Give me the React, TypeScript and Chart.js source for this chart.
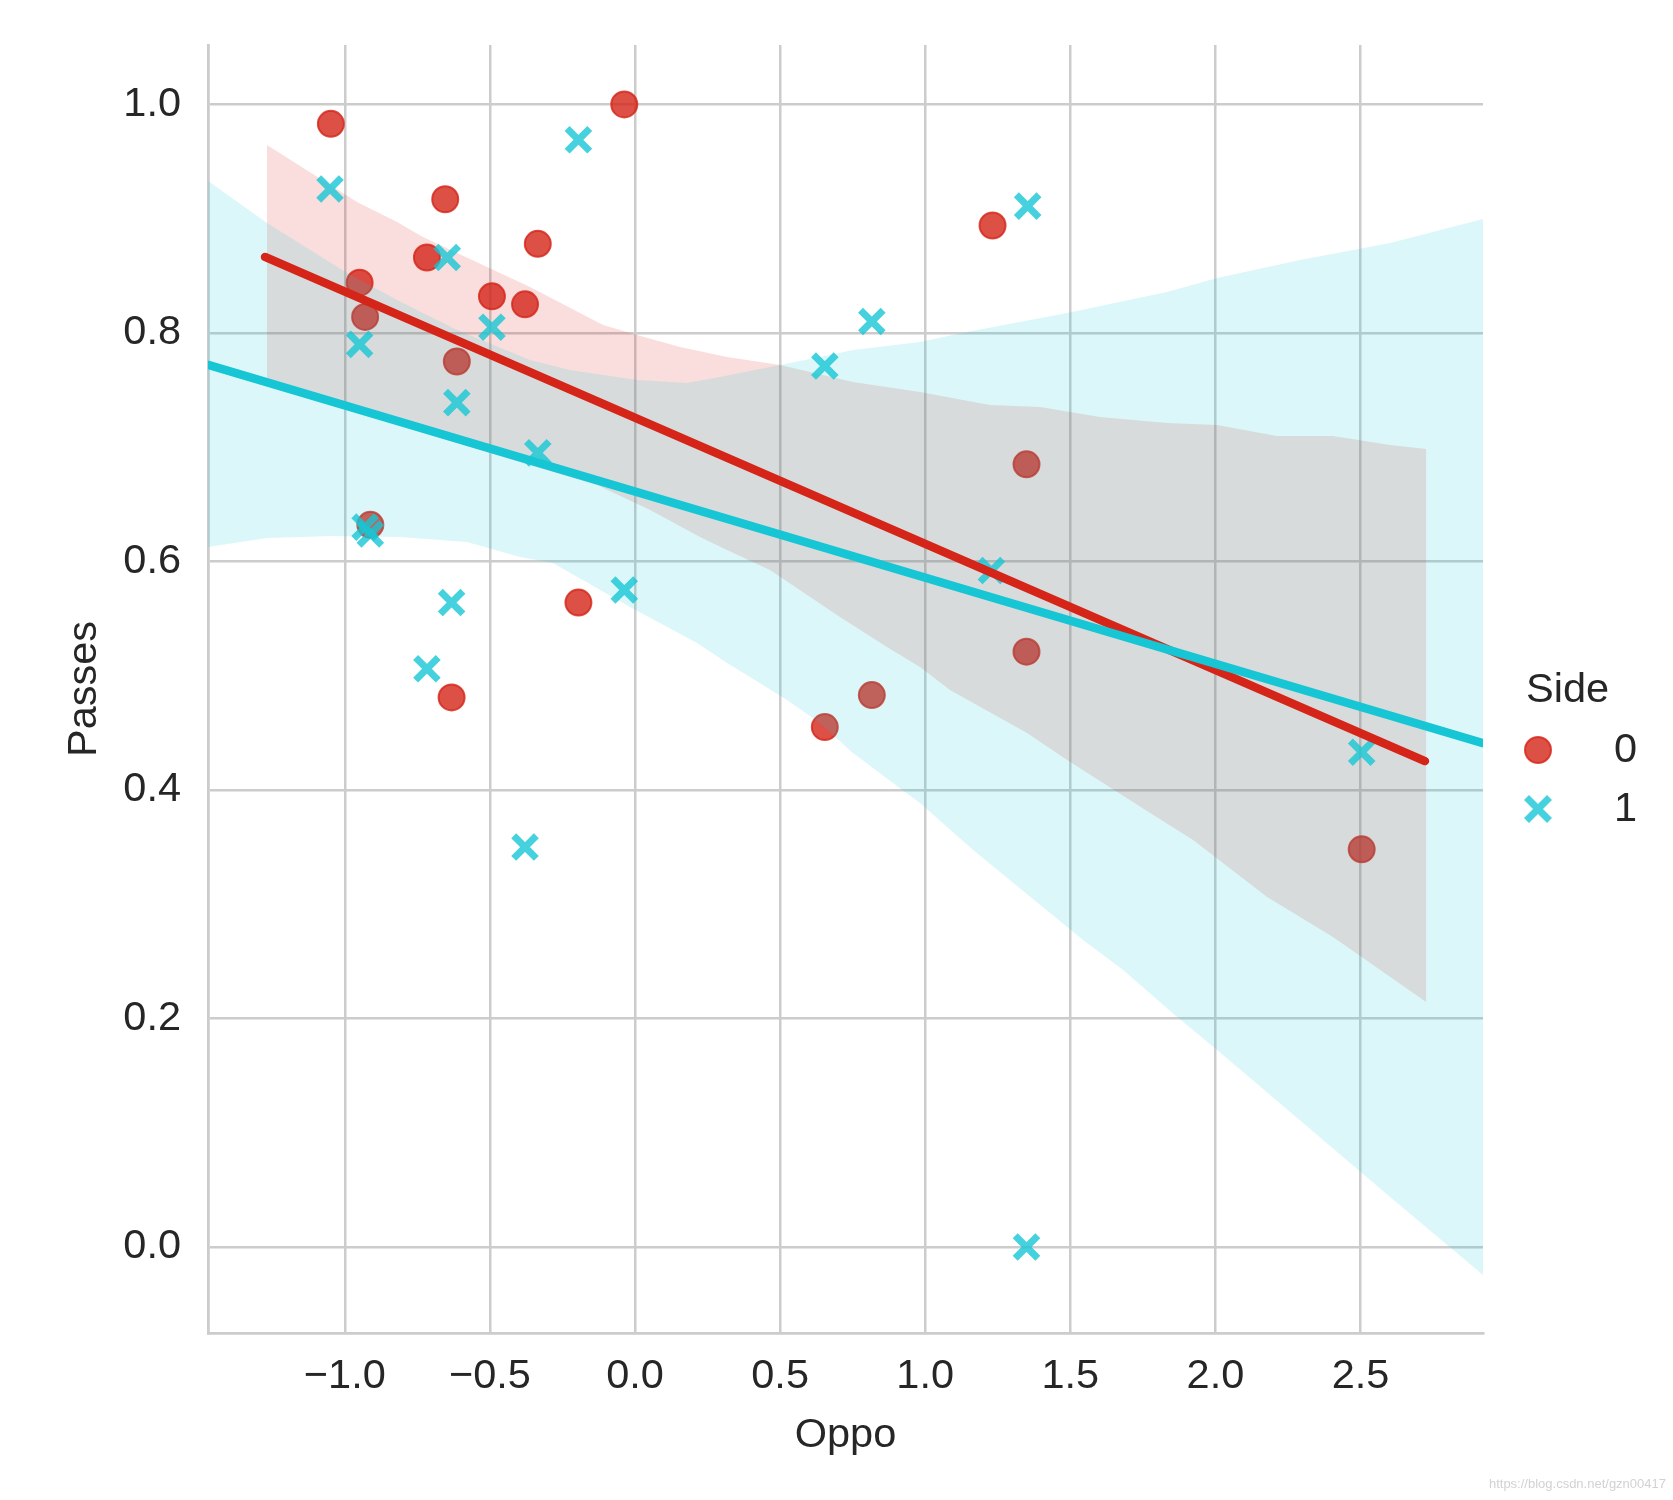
import React, { useEffect, useRef } from 'react';
import { Chart, registerables } from 'chart.js';

Chart.register(...registerables);

// ---- data ----
const side0X = [-1.048, -0.037, -0.654, -0.717, -0.949, -0.930, -0.493, -0.379, -0.335, -0.614, 1.232, 1.349, -0.912, -0.195, -0.632, 0.654, 0.816, 1.349, 2.504];
const side0Y = [0.983, 1.000, 0.917, 0.866, 0.844, 0.814, 0.832, 0.825, 0.878, 0.775, 0.894, 0.685, 0.632, 0.564, 0.481, 0.455, 0.483, 0.521, 0.348];

const side1X = [-1.051, -0.195, 1.353, -0.647, -0.949, -0.493, 0.816, 0.654, -0.614, -0.335, -0.930, -0.912, 1.228, -0.037, -0.632, -0.717, -0.379, 2.504, 1.349];
const side1Y = [0.926, 0.969, 0.911, 0.866, 0.790, 0.805, 0.810, 0.771, 0.739, 0.695, 0.630, 0.624, 0.592, 0.575, 0.564, 0.506, 0.350, 0.433, 0.000];

const fit0X = [-1.275, 2.722];
const fit0Y = [0.8665, 0.4253];
const fit1X = [-1.471, 2.922];
const fit1Y = [0.772, 0.441];

const band0UpperX = [-1.268, -0.958, -0.820, -0.731, -0.613, -0.362, -0.110, 0.007, 0.155, 0.317, 0.500, 0.751, 0.982, 1.223, 1.396, 1.602, 1.833, 2.006, 2.212, 2.405, 2.602, 2.726];
const band0UpperY = [0.9645, 0.9146, 0.8971, 0.8840, 0.8699, 0.8402, 0.8069, 0.7982, 0.7877, 0.7789, 0.7719, 0.7571, 0.7483, 0.7369, 0.7352, 0.7264, 0.7212, 0.7194, 0.7098, 0.7098, 0.7019, 0.6984];
const band0LowerX = [-1.268, -1.041, -0.810, -0.579, -0.351, -0.131, 0.052, 0.224, 0.317, 0.465, 0.706, 0.868, 0.982, 1.085, 1.351, 1.489, 1.775, 1.923, 2.178, 2.405, 2.726];
const band0LowerY = [0.7606, 0.7378, 0.7194, 0.7010, 0.6835, 0.6669, 0.6450, 0.6214, 0.6100, 0.5925, 0.5514, 0.5251, 0.5076, 0.4875, 0.4499, 0.4262, 0.3798, 0.3562, 0.3063, 0.2713, 0.2144];

const band1UpperX = [-1.471, -1.268, -0.992, -0.820, -0.613, -0.362, -0.224, 0.007, 0.179, 0.293, 0.500, 0.637, 0.751, 0.982, 1.144, 1.489, 1.833, 2.006, 2.292, 2.602, 2.922];
const band1UpperY = [0.9330, 0.8962, 0.8524, 0.8288, 0.8026, 0.7763, 0.7675, 0.7588, 0.7562, 0.7614, 0.7719, 0.7789, 0.7851, 0.7921, 0.8008, 0.8174, 0.8358, 0.8481, 0.8638, 0.8787, 0.8997];
const band1LowerX = [-1.471, -1.268, -1.041, -0.810, -0.579, -0.396, -0.283, -0.017, 0.214, 0.317, 0.396, 0.524, 0.637, 0.751, 0.889, 0.982, 1.165, 1.544, 1.682, 1.868, 2.006, 2.602, 2.922];
const band1LowerY = [0.6126, 0.6205, 0.6223, 0.6214, 0.6170, 0.6039, 0.5986, 0.5601, 0.5286, 0.5111, 0.4989, 0.4787, 0.4586, 0.4324, 0.4061, 0.3886, 0.3475, 0.2687, 0.2424, 0.2013, 0.1724, 0.0438, -0.0245];

const xTicks = [-1.0, -0.5, 0.0, 0.5, 1.0, 1.5, 2.0, 2.5];
const yTicks = [0.0, 0.2, 0.4, 0.6, 0.8, 1.0];
const xRange = [-1.4714, 2.922];
const yRange = [-0.0753, 1.052];

const xLabel = 'Oppo';
const yLabel = 'Passes';
const legendTitle = 'Side';
const legendLabels = ['0', '1'];
const watermark = 'https://blog.csdn.net/gzn00417';

// ---- styles ----
const RED = 'rgb(213,36,24)';
const RED_PT = 'rgba(213,36,24,0.8)';
const RED_BAND = 'rgba(213,36,24,0.15)';
const CYAN = 'rgb(23,198,212)';
const CYAN_PT = 'rgba(23,198,212,0.8)';
const CYAN_BAND = 'rgba(23,198,212,0.15)';
const TEXT = '#262626';
const GRID = '#cccccc';
const FONT = "'Liberation Sans', Arial, sans-serif";
const FS = 41.5;

const pts = (xs: number[], ys: number[]) => xs.map((x, i) => ({ x, y: ys[i] }));
const polygon = (ux: number[], uy: number[], lx: number[], ly: number[]) => [
  ...pts(ux, uy),
  ...pts(lx, ly).reverse(),
];

const fmt = (v: number) => (v < 0 ? '\u2212' : '') + Math.abs(v).toFixed(1);

const extrasPlugin = {
  id: 'extras',
  afterDraw(chart: any) {
    const ctx = chart.ctx as CanvasRenderingContext2D;
    ctx.save();
    // legend
    ctx.fillStyle = TEXT;
    ctx.font = `${FS}px ${FONT}`;
    ctx.textAlign = 'left';
    ctx.textBaseline = 'alphabetic';
    ctx.fillText(legendTitle, 1526, 702);
    // circle
    ctx.beginPath();
    ctx.arc(1538, 750, 13, 0, Math.PI * 2);
    ctx.fillStyle = RED_PT;
    ctx.fill();
    ctx.lineWidth = 2;
    ctx.strokeStyle = RED_PT;
    ctx.stroke();
    // cross
    ctx.beginPath();
    const o = 11.5;
    ctx.moveTo(1538 - o, 809 - o);
    ctx.lineTo(1538 + o, 809 + o);
    ctx.moveTo(1538 + o, 809 - o);
    ctx.lineTo(1538 - o, 809 + o);
    ctx.lineWidth = 7;
    ctx.strokeStyle = CYAN_PT;
    ctx.stroke();
    ctx.fillStyle = TEXT;
    ctx.fillText(legendLabels[0], 1614, 762);
    ctx.fillText(legendLabels[1], 1614, 821);
    // watermark
    ctx.font = `13px ${FONT}`;
    ctx.fillStyle = '#d2d2d2';
    ctx.textAlign = 'right';
    ctx.fillText(watermark, 1666, 1488);
    ctx.restore();
  },
};

export default function App() {
  const ref = useRef<HTMLCanvasElement>(null);

  useEffect(() => {
    document.body.style.margin = '0';
    const canvas = ref.current;
    if (!canvas) return;

    const chart = new Chart(canvas, {
      type: 'line',
      data: {
        datasets: [
          {
            label: 'fit1',
            data: pts(fit1X, fit1Y),
            showLine: true,
            fill: false,
            borderColor: CYAN,
            borderWidth: 8.5,
            borderCapStyle: 'round',
            pointRadius: 0,
            order: 1,
          },
          {
            label: 'fit0',
            data: pts(fit0X, fit0Y),
            showLine: true,
            fill: false,
            borderColor: RED,
            borderWidth: 8.5,
            borderCapStyle: 'round',
            pointRadius: 0,
            order: 2,
          },
          {
            label: 'band1',
            data: polygon(band1UpperX, band1UpperY, band1LowerX, band1LowerY),
            showLine: true,
            fill: 'shape',
            backgroundColor: CYAN_BAND,
            borderColor: 'rgba(0,0,0,0)',
            borderWidth: 0,
            pointRadius: 0,
            tension: 0,
            order: 3,
          } as any,
          {
            label: '1',
            data: pts(side1X, side1Y),
            showLine: false,
            pointStyle: 'crossRot',
            pointRadius: 16,
            pointBorderWidth: 7,
            pointBorderColor: CYAN_PT,
            pointBackgroundColor: CYAN_PT,
            borderColor: CYAN_PT,
            order: 4,
          },
          {
            label: 'band0',
            data: polygon(band0UpperX, band0UpperY, band0LowerX, band0LowerY),
            showLine: true,
            fill: 'shape',
            backgroundColor: RED_BAND,
            borderColor: 'rgba(0,0,0,0)',
            borderWidth: 0,
            pointRadius: 0,
            tension: 0,
            order: 5,
          } as any,
          {
            label: '0',
            data: pts(side0X, side0Y),
            showLine: false,
            pointStyle: 'circle',
            pointRadius: 13,
            pointBorderWidth: 2,
            pointBorderColor: RED_PT,
            pointBackgroundColor: RED_PT,
            borderColor: RED_PT,
            order: 6,
          },
        ],
      },
      options: {
        responsive: false,
        animation: false,
        events: [],
        layout: { padding: { top: 45, right: 190, left: 0, bottom: 0 } },
        plugins: {
          legend: { display: false },
          tooltip: { enabled: false },
        },
        scales: {
          x: {
            type: 'linear',
            min: xRange[0],
            max: xRange[1],
            afterBuildTicks: (s: any) => {
              s.ticks = xTicks.map((value) => ({ value }));
            },
            afterFit: (s: any) => {
              s.height = 167;
              s.paddingLeft = 0;
              s.paddingRight = 0;
            },
            grid: { color: GRID, lineWidth: 2.5, drawTicks: false },
            border: { display: true, color: GRID, width: 2.8 },
            ticks: {
              padding: 19,
              color: TEXT,
              font: { family: FONT, size: FS },
              callback: (v: any) => fmt(Number(v)),
            },
            title: {
              display: true,
              text: xLabel,
              color: TEXT,
              font: { family: FONT, size: FS },
              padding: { top: 0, bottom: 40 },
            },
          },
          y: {
            type: 'linear',
            min: yRange[0],
            max: yRange[1],
            afterBuildTicks: (s: any) => {
              s.ticks = yTicks.map((value) => ({ value }));
            },
            afterFit: (s: any) => {
              s.width = 208;
              s.paddingTop = 0;
              s.paddingBottom = 0;
            },
            grid: { color: GRID, lineWidth: 2.5, drawTicks: false },
            border: { display: true, color: GRID, width: 2.8 },
            ticks: {
              padding: 27,
              color: TEXT,
              font: { family: FONT, size: FS },
              callback: (v: any) => fmt(Number(v)),
            },
            title: {
              display: true,
              text: yLabel,
              color: TEXT,
              font: { family: FONT, size: FS },
              padding: { top: 60, bottom: 0 },
            },
          },
        },
      },
      plugins: [extrasPlugin],
    } as any);

    return () => chart.destroy();
  }, []);

  return (
    <div style={{ width: 1673, height: 1500, position: 'relative' }}>
      <canvas
        ref={ref}
        width={1673}
        height={1500}
        style={{ width: '1673px', height: '1500px', display: 'block' }}
      />
    </div>
  );
}
